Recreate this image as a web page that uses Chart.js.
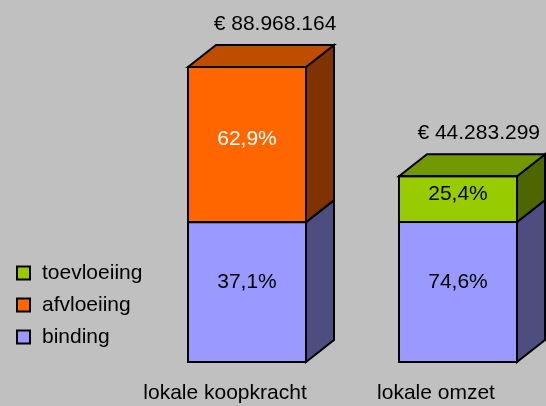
<!DOCTYPE html>
<html>
<head>
<meta charset="utf-8">
<script src="https://cdn.jsdelivr.net/npm/chart.js@4"></script>
<style>
  html, body { margin: 0; padding: 0; background: #c0c0c0; }
  canvas { display: block; }
</style>
</head>
<body>
<canvas id="marktChart" width="546" height="406"></canvas>
<script>
var categories = ['lokale koopkracht', 'lokale omzet'];
var totals = [88968164, 44283299];
var binding = [33007189, 33035341];
var afvloeiing = [55960975, null];
var toevloeiing = [null, 11247958];

var FONT = '"Liberation Sans", Arial, sans-serif';
var DX = 28, DY = 22;

function shade(hex, f) {
    var n = parseInt(hex.slice(1), 16);
    var r = Math.round(((n >> 16) & 255) * f);
    var g = Math.round(((n >> 8) & 255) * f);
    var b = Math.round((n & 255) * f);
    return 'rgb(' + r + ',' + g + ',' + b + ')';
}
function euro(n) {
    return '€ ' + String(n).replace(/\B(?=(\d{3})+(?!\d))/g, '.');
}
function pct(v, t) {
    return (v / t * 100).toFixed(1).replace('.', ',') + '%';
}
function poly(ctx, pts, fill) {
    ctx.beginPath();
    ctx.moveTo(pts[0][0], pts[0][1]);
    for (var k = 1; k < pts.length; k++) ctx.lineTo(pts[k][0], pts[k][1]);
    ctx.closePath();
    ctx.fillStyle = fill;
    ctx.fill();
    ctx.stroke();
}

// side/top faces, outlines and labels on top of the flat bars
var bars3d = {
    id: 'bars3d',
    afterDatasetsDraw: function (chart) {
        var ctx = chart.ctx;
        var sets = chart.data.datasets;
        var topIdx = {};
        sets.forEach(function (ds, di) {
            ds.data.forEach(function (v, i) { if (v != null) topIdx[i] = di; });
        });
        ctx.save();
        ctx.lineWidth = 2;
        ctx.strokeStyle = '#000';
        ctx.lineJoin = 'miter';
        sets.forEach(function (ds, di) {
            var meta = chart.getDatasetMeta(di);
            meta.data.forEach(function (bar, i) {
                if (ds.data[i] == null) return;
                var l = bar.x - bar.width / 2, r = bar.x + bar.width / 2;
                var t = bar.y, b = bar.base;
                poly(ctx, [[r, t], [r + DX, t - DY], [r + DX, b - DY], [r, b]], shade(ds.backgroundColor, 0.5));
                if (topIdx[i] === di) {
                    poly(ctx, [[l, t], [l + DX, t - DY], [r + DX, t - DY], [r, t]], shade(ds.backgroundColor, 0.75));
                }
                ctx.strokeRect(l, t, r - l, b - t);

                ctx.font = '21px ' + FONT;
                ctx.textAlign = 'center';
                ctx.textBaseline = 'middle';
                ctx.fillStyle = ds.labelColor;
                ctx.fillText(pct(ds.data[i], totals[i]), bar.x, (t + b) / 2 - (di === 0 ? 10 : 5));

                if (topIdx[i] === di) {
                    var txt = euro(totals[i]);
                    var w = ctx.measureText(txt).width;
                    var cx = Math.min(bar.x + DX, chart.width - 6 - w / 2);
                    ctx.fillStyle = '#000';
                    ctx.textBaseline = 'alphabetic';
                    ctx.fillText(txt, cx, t - DY - 15);
                }
            });
        });

        // legend, reversed order like the original
        ctx.font = '21px ' + FONT;
        ctx.textAlign = 'left';
        ctx.textBaseline = 'middle';
        sets.slice().reverse().forEach(function (ds, k) {
            var cy = 273 + k * 32;
            ctx.fillStyle = ds.backgroundColor;
            ctx.fillRect(17, cy - 6.5, 13, 13);
            ctx.strokeRect(17, cy - 6.5, 13, 13);
            ctx.fillStyle = '#000';
            ctx.fillText(ds.label, 42, cy);
        });
        ctx.restore();
    }
};

var chartElement = document.getElementById('marktChart').getContext('2d');
var chartObject = new Chart(chartElement, {
    type: 'bar',
    data: {
        labels: categories,
        datasets: [{
            label: 'binding',
            data: binding,
            backgroundColor: '#9999ff',
            labelColor: '#000',
            borderWidth: 0,
            clip: false
        }, {
            label: 'afvloeiing',
            data: afvloeiing,
            backgroundColor: '#ff6600',
            labelColor: '#fff',
            borderWidth: 0,
            clip: false
        }, {
            label: 'toevloeiing',
            data: toevloeiing,
            backgroundColor: '#99cc00',
            labelColor: '#000',
            borderWidth: 0,
            clip: false
        }]
    },
    options: {
        responsive: false,
        animation: false,
        devicePixelRatio: 1,
        barThickness: 118,
        layout: { padding: { top: 20, left: 247, right: 88, bottom: 0 } },
        plugins: {
            legend: { display: false },
            tooltip: { enabled: false }
        },
        scales: {
            x: {
                stacked: true,
                offset: false,
                grid: { display: false, drawTicks: false },
                border: { display: false },
                ticks: {
                    color: '#000',
                    font: { family: FONT, size: 21 },
                    padding: 19,
                    labelOffset: -22,
                    maxRotation: 0,
                    autoSkip: false
                },
                afterFit: function (scale) { scale.height = 44; }
            },
            y: {
                type: 'logarithmic',
                stacked: true,
                display: false,
                min: 13500000,
                max: 120170000
            }
        }
    },
    plugins: [bars3d]
});
</script>
</body>
</html>
